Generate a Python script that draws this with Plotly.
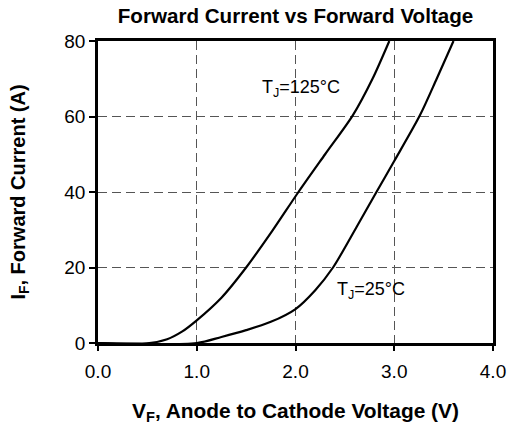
import plotly.graph_objects as go

# Data
vf_125 = [0.0, 0.52, 0.7, 0.85, 1.0, 1.25, 1.5, 1.77, 2.03, 2.3, 2.58, 2.78, 2.95]
if_125 = [0.0, 0.0, 1.0, 3.0, 6.0, 12.0, 20.0, 29.9, 40.0, 50.0, 60.3, 70.0, 80.0]

vf_25 = [0.0, 1.0, 1.25, 1.5, 1.75, 2.0, 2.2, 2.38, 2.62, 2.82, 3.0, 3.26, 3.43, 3.6]
if_25 = [0.0, 0.0, 1.6, 3.4, 5.6, 9.0, 14.0, 20.0, 30.8, 40.0, 48.2, 60.3, 70.0, 80.0]

x_ticks = [0, 1, 2, 3, 4]
x_tick_text = ["0.0", "1.0", "2.0", "3.0", "4.0"]
y_ticks = [0, 20, 40, 60, 80]

labels = ["T<sub>J</sub>=125°C", "T<sub>J</sub>=25°C"]
label_x = [2.06, 2.76]
label_y = [67.5, 14.0]

fig = go.Figure()
for vx, iy in [(vf_125, if_125), (vf_25, if_25)]:
    fig.add_trace(go.Scatter(x=vx, y=iy, mode="lines",
                             line=dict(color="black", width=2.2, shape="spline", smoothing=0.8),
                             showlegend=False, hoverinfo="skip"))

for t, ax, ay in zip(labels, label_x, label_y):
    fig.add_annotation(x=ax, y=ay, text=t, showarrow=False, font=dict(size=18, color="black"))

W, H = 508, 426
fig.update_layout(
    width=W, height=H,
    margin=dict(l=98, r=15, t=41, b=83),
    paper_bgcolor="white", plot_bgcolor="white",
    font=dict(family="Liberation Sans, Arial, sans-serif", color="black"),
    title=dict(text="<b>Forward Current vs Forward Voltage</b>", x=0.5, xref="paper", xanchor="center",
               y=1 - 16 / H, yref="container", yanchor="middle",
               font=dict(size=20.6, color="black")),
)

fig.update_xaxes(range=[0, 4], tickvals=x_ticks, ticktext=x_tick_text, showline=True, linecolor="black", linewidth=2.5,
                 mirror=True, ticks="outside", ticklen=5, tickwidth=1.5, tickcolor="black",
                 showgrid=True, gridcolor="#555555", griddash="9px,5px", gridwidth=1, zeroline=False,
                 tickfont=dict(size=19), ticklabelstandoff=4, automargin=False,
                 title=dict(text="<b>V<sub>F</sub>, Anode to Cathode Voltage (V)</b>", font=dict(size=20.9), standoff=23))
fig.update_yaxes(range=[0, 80], tickvals=y_ticks, showline=True, linecolor="black", linewidth=2.5,
                 mirror=True, ticks="outside", ticklen=6, tickwidth=1.5, tickcolor="black",
                 showgrid=True, gridcolor="#555555", griddash="9px,5px", gridwidth=1, zeroline=False,
                 tickfont=dict(size=19), ticklabelstandoff=0, automargin=False,
                 title=dict(text="<b>I<sub>F</sub>, Forward Current (A)</b>", font=dict(size=20), standoff=34))

# remove the default page margin so the figure fills the window exactly
fig.write_html("out.html", config={"displayModeBar": False},
               post_script="document.body.style.margin='0';document.documentElement.style.overflow='hidden';")
